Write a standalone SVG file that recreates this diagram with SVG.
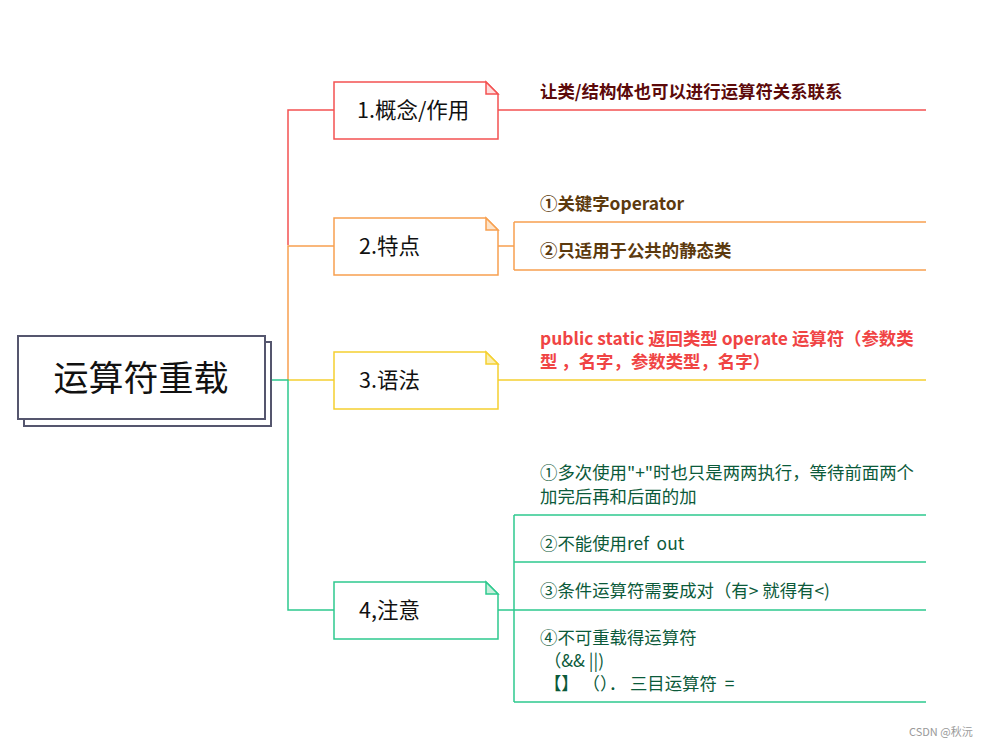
<svg xmlns="http://www.w3.org/2000/svg" width="992" height="747" viewBox="0 0 992 747">
<style>
text{font-family:"Noto Sans CJK SC","Microsoft YaHei",sans-serif;white-space:pre}
.nt{font-size:21.5px;fill:#111}
.node{fill:#fff;stroke-width:1.5}
.lbl{font-size:17.4px}
.c{fill:none;stroke-width:1.5}
</style>
<rect width="992" height="747" fill="#fff"/>
<g id="connectors">
<path class="c" stroke="#f35252" d="M288 245V110H334M498 110H926"/>
<path class="c" stroke="#f7a050" d="M288 380V246H334M498 246H514M514 222V270M514 222H926M514 270H926"/>
<path class="c" stroke="#f5d030" d="M288 380H334M498 380H926"/>
<path class="c" stroke="#2ec98e" d="M271 380H288V610H334M498 610H514M514 515V702M514 515H926M514 562H926M514 610H926M514 702H926"/>
</g>
<g id="root">
<rect x="24" y="342" width="247" height="84" fill="#fff" stroke="#55566e" stroke-width="2"/>
<rect x="18" y="336" width="247" height="83" fill="#fff" stroke="#55566e" stroke-width="2"/>
<text x="141" y="391" font-size="35" text-anchor="middle" fill="#111">运算符重载</text>
</g>
<g id="n1">
<path class="node" stroke="#f35252" d="M334 82H486L498 94V139H334Z"/>
<path d="M486 82V94H498Z" fill="#fdd" stroke="#f35252" stroke-width="1.5"/>
<text class="nt" x="357" y="118">1.概念/作用</text>
<text class="lbl" x="540" y="98" font-weight="bold" fill="#5c0a0a">让类/结构体也可以进行运算符关系联系</text>
</g>
<g id="n2">
<path class="node" stroke="#f7a050" d="M334 218H486L498 230V275H334Z"/>
<path d="M486 218V230H498Z" fill="#fde3c8" stroke="#f7a050" stroke-width="1.5"/>
<text class="nt" x="359" y="254">2.特点</text>
<text class="lbl" x="540" y="210" font-weight="bold" fill="#5c3a0e">①关键字operator</text>
<text class="lbl" x="540" y="257" font-weight="bold" fill="#5c3a0e">②只适用于公共的静态类</text>
</g>
<g id="n3">
<path class="node" stroke="#f5d030" d="M334 352H486L498 364V409H334Z"/>
<path d="M486 352V364H498Z" fill="#fbefb0" stroke="#f5d030" stroke-width="1.5"/>
<text class="nt" x="359" y="388">3.语法</text>
<text class="lbl" font-weight="bold" fill="#f04444"><tspan x="540" y="345">public static 返回类型 operate 运算符（参数类</tspan><tspan x="540" y="368">型 ，名字，参数类型，名字）</tspan></text>
</g>
<g id="n4">
<path class="node" stroke="#2ec98e" d="M334 582H486L498 594V639H334Z"/>
<path d="M486 582V594H498Z" fill="#c5f0dc" stroke="#2ec98e" stroke-width="1.5"/>
<text class="nt" x="359" y="618">4,注意</text>
<g class="lbl" fill="#0b5a3a">
<text><tspan x="540" y="478.5">①多次使用"+"时也只是两两执行，等待前面两个</tspan><tspan x="540" y="502.5">加完后再和后面的加</tspan></text>
<text x="540" y="550">②不能使用ref  out</text>
<text x="540" y="597">③条件运算符需要成对（有&gt; 就得有&lt;)</text>
<text><tspan x="540" y="644">④不可重载得运算符</tspan><tspan x="540" y="667"> （&amp;&amp; ||)</tspan><tspan x="540" y="690"> 【】 （）． 三目运算符  =</tspan></text>
</g>
</g>
<text x="909" y="736" font-size="11" fill="#999">CSDN @秋沅</text>
</svg>
